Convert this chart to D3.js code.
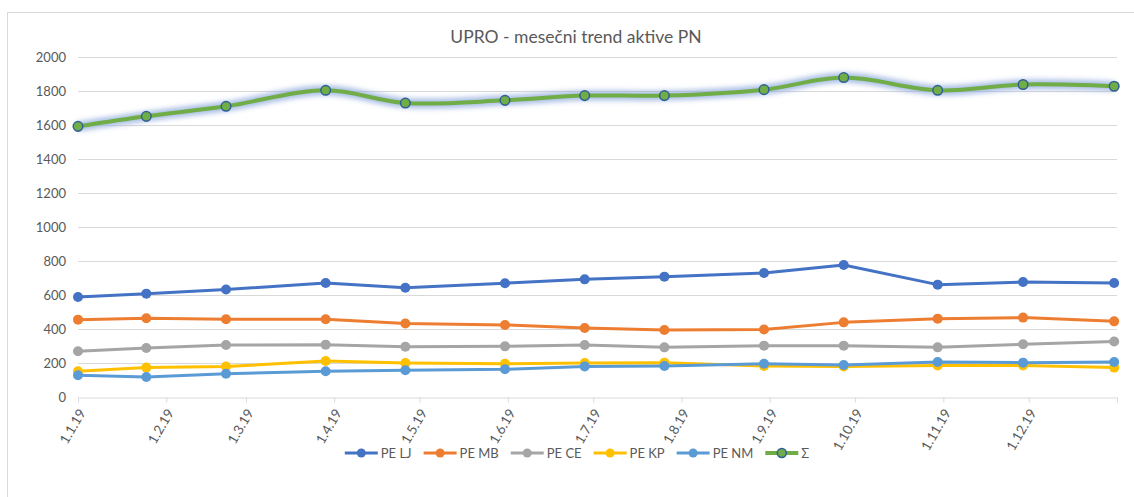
<!DOCTYPE html>
<html>
<head>
<meta charset="utf-8">
<script src="https://cdn.jsdelivr.net/npm/d3@7"></script>
<style>
  body { margin: 0; background: #fff; }
  svg { font-family: Lato, "Open Sans", sans-serif; }
</style>
</head>
<body>
<div class="d3"></div>
<script>
// data
const dates = ["2019-01-01", "2019-01-25", "2019-02-22", "2019-03-29", "2019-04-26", "2019-05-31",
               "2019-06-28", "2019-07-26", "2019-08-30", "2019-09-27", "2019-10-30", "2019-11-29", "2019-12-31"];
const seriesNames = ["PE LJ", "PE MB", "PE CE", "PE KP", "PE NM", "Σ"];
const peLJ = [588, 608, 632, 671, 643, 669, 692, 708, 729, 776, 661, 676, 671];
const peMB = [455, 463, 457, 457, 432, 424, 406, 394, 397, 439, 461, 467, 445];
const peCE = [269, 288, 306, 308, 296, 298, 306, 292, 302, 302, 292, 310, 326];
const peKP = [151, 173, 179, 212, 200, 196, 200, 202, 182, 179, 186, 186, 173];
const peNM = [128, 118, 137, 151, 157, 163, 180, 182, 196, 188, 206, 202, 206];
const total = [1592, 1651, 1710, 1804, 1729, 1745, 1773, 1773, 1808, 1879, 1804, 1838, 1828];
const tickLabels = ["1.1.19", "1.2.19", "1.3.19", "1.4.19", "1.5.19", "1.6.19",
                    "1.7.19", "1.8.19", "1.9.19", "1.10.19", "1.11.19", "1.12.19"];
const colors = ["#4472C4", "#ED7D31", "#A5A5A5", "#FFC000", "#5B9BD5", "#70AD47"];

function main() {
    const width = 1134, height = 497;
    const parse = d3.timeParse("%Y-%m-%d");
    const dateObjs = dates.map(parse);
    const allSeries = [peLJ, peMB, peCE, peKP, peNM, total];

    const svg = d3.select(".d3").append("svg")
        .attr("width", width)
        .attr("height", height);

    svg.append("rect")
        .attr("x", 7.5).attr("y", 12.5)
        .attr("width", 1140).attr("height", 500)
        .attr("fill", "#fff")
        .attr("stroke", "#D9D9D9");

    const defs = svg.append("defs");
    defs.append("filter").attr("id", "glow")
        .attr("x", "-5%").attr("y", "-50%").attr("width", "110%").attr("height", "200%")
        .append("feGaussianBlur").attr("stdDeviation", 2.5);

    const x = d3.scaleTime()
        .domain([parse("2019-01-01"), parse("2020-01-01")])
        .range([78, 1117]);
    const y = d3.scaleLinear().domain([0, 2000]).range([397, 57]);

    svg.append("text")
        .attr("x", 576).attr("y", 43)
        .attr("text-anchor", "middle")
        .attr("font-size", 17.5)
        .attr("fill", "#595959")
        .text("UPRO - mesečni trend aktive PN");

    // gridlines + y labels
    const yTicks = d3.range(0, 2001, 200);
    svg.append("g").selectAll("line")
        .data(yTicks.filter(d => d > 0))
        .enter().append("line")
        .attr("x1", 78).attr("x2", 1117)
        .attr("y1", d => Math.round(y(d)) + 0.5)
        .attr("y2", d => Math.round(y(d)) + 0.5)
        .attr("stroke", "#D9D9D9");

    svg.append("g").selectAll("text")
        .data(yTicks)
        .enter().append("text")
        .attr("x", 66).attr("y", d => y(d))
        .attr("dy", "0.35em")
        .attr("text-anchor", "end")
        .attr("font-size", 13)
        .attr("fill", "#595959")
        .text(d => d);

    // x axis
    const monthTicks = d3.timeMonth.range(parse("2019-01-01"), parse("2020-01-02"));
    const xAxis = d3.axisBottom(x)
        .tickValues(monthTicks)
        .tickSize(5)
        .tickSizeOuter(0)
        .tickFormat("");
    const ax = svg.append("g")
        .attr("transform", "translate(0," + (Math.round(y(0)) + 0.5) + ")")
        .call(xAxis);
    ax.select(".domain").attr("stroke", "#D9D9D9");
    ax.selectAll(".tick line").attr("stroke", "#D9D9D9");

    svg.append("g").selectAll("text")
        .data(tickLabels)
        .enter().append("text")
        .attr("transform", (d, i) => "translate(" + (x(monthTicks[i]) + 4) + ",410) rotate(-60)")
        .attr("text-anchor", "end")
        .attr("dy", "0.35em")
        .attr("font-size", 13.5)
        .attr("fill", "#595959")
        .text(d => d);

    // series
    const straight = d3.line()
        .x((d, i) => x(dateObjs[i]))
        .y(d => y(d));
    const smooth = d3.line()
        .x((d, i) => x(dateObjs[i]))
        .y(d => y(d))
        .curve(d3.curveCatmullRom.alpha(0.5));

    allSeries.slice(0, 5).forEach((vals, s) => {
        const g = svg.append("g");
        g.append("path")
            .attr("d", straight(vals))
            .attr("fill", "none")
            .attr("stroke", colors[s])
            .attr("stroke-width", 3)
            .attr("stroke-linejoin", "round");
        g.selectAll("circle")
            .data(vals)
            .enter().append("circle")
            .attr("cx", (d, i) => x(dateObjs[i]))
            .attr("cy", d => y(d))
            .attr("r", 5)
            .attr("fill", colors[s]);
    });

    const gt = svg.append("g");
    gt.append("path")
        .attr("d", smooth(total))
        .attr("fill", "none")
        .attr("stroke", "#8FAADC")
        .attr("stroke-opacity", 0.75)
        .attr("stroke-width", 10)
        .attr("filter", "url(#glow)");
    gt.append("path")
        .attr("d", smooth(total))
        .attr("fill", "none")
        .attr("stroke", colors[5])
        .attr("stroke-width", 4);
    gt.selectAll("circle")
        .data(total)
        .enter().append("circle")
        .attr("cx", (d, i) => x(dateObjs[i]))
        .attr("cy", d => y(d))
        .attr("r", 4.8)
        .attr("fill", colors[5])
        .attr("stroke", "#2F5F96")
        .attr("stroke-width", 1.5);

    // legend
    const legend = svg.append("g");
    let cx = 0;
    seriesNames.forEach((name, s) => {
        const item = legend.append("g").attr("transform", "translate(" + cx + ",0)");
        item.append("line")
            .attr("x1", 0).attr("x2", 33)
            .attr("stroke", colors[s])
            .attr("stroke-width", s === 5 ? 4 : 3);
        item.append("circle")
            .attr("cx", 16.5).attr("r", 4.5)
            .attr("fill", colors[s])
            .attr("stroke", s === 5 ? "#2F5F96" : "none")
            .attr("stroke-width", 1.5);
        const t = item.append("text")
            .attr("x", 36).attr("dy", "0.35em")
            .attr("font-size", 13)
            .attr("fill", "#595959")
            .text(name);
        cx += 36 + t.node().getComputedTextLength() + 12;
    });
    const legW = cx - 12;
    legend.attr("transform", "translate(" + (577 - legW / 2) + ",453)");
}
main();
</script>
</body>
</html>
